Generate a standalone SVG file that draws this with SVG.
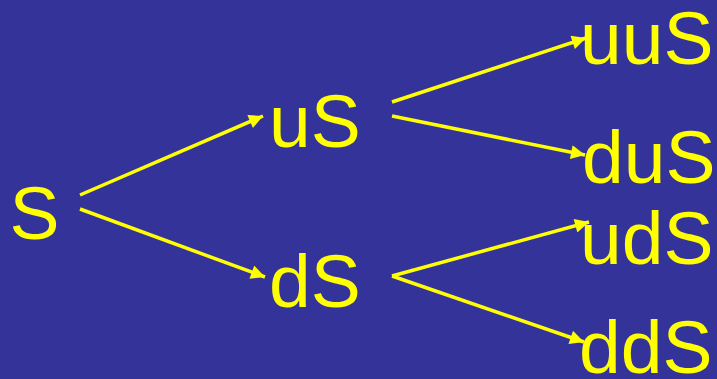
<svg xmlns="http://www.w3.org/2000/svg" width="717" height="379" viewBox="0 0 717 379">
<style>
.lbl{font-family:"Liberation Sans",Arial,sans-serif;font-size:75px;fill:#FFFF00}
.edge{stroke:#FFFF00;stroke-width:3.5;fill:none}
</style>
<defs>
<marker id="ah" viewBox="0 0 10 10" refX="10" refY="5" markerWidth="4.8" markerHeight="4" orient="auto" markerUnits="strokeWidth">
<path d="M0,0 L10,5 L0,10 Z" fill="#FFFF00"/>
</marker>
</defs>
<rect width="717" height="379" fill="#333399"/>
<g id="connectors">
<line class="edge" x1="80" y1="195" x2="263" y2="116" marker-end="url(#ah)"/>
<line class="edge" x1="80" y1="209" x2="265" y2="277" marker-end="url(#ah)"/>
<line class="edge" x1="392" y1="102" x2="586" y2="38" marker-end="url(#ah)"/>
<line class="edge" x1="392" y1="116" x2="585" y2="155" marker-end="url(#ah)"/>
<line class="edge" x1="392" y1="276" x2="589" y2="222" marker-end="url(#ah)"/>
<line class="edge" x1="392" y1="276" x2="584" y2="342" marker-end="url(#ah)"/>
</g>
<g id="S"><text class="lbl" x="9.5" y="239">S</text></g>
<g id="uS"><text class="lbl" x="269" y="147">uS</text></g>
<g id="dS"><text class="lbl" x="269" y="307">dS</text></g>
<g id="uuS"><text class="lbl" x="580" y="64">uuS</text></g>
<g id="duS"><text class="lbl" x="582" y="183">duS</text></g>
<g id="udS"><text class="lbl" x="580" y="264">udS</text></g>
<g id="ddS"><text class="lbl" x="579" y="373">ddS</text></g>
</svg>
